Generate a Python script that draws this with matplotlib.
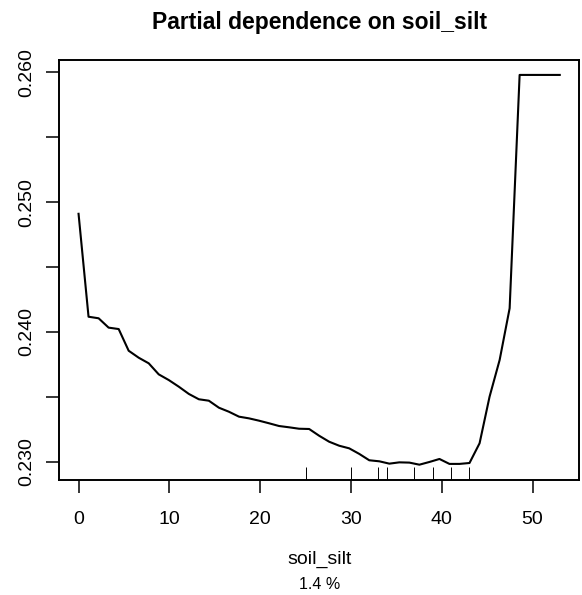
import matplotlib
matplotlib.use("Agg")
import matplotlib.pyplot as plt
import matplotlib.transforms as mtransforms

plt.rcParams['font.family'] = ['Liberation Sans', 'DejaVu Sans']

# partial dependence curve
soil_silt = [0.00, 1.10, 2.21, 3.31, 4.42, 5.52, 6.63, 7.73, 8.83, 9.94,
             11.04, 12.15, 13.25, 14.35, 15.46, 16.56, 17.67, 18.77, 19.88, 20.98,
             22.08, 23.19, 24.29, 25.40, 26.50, 27.60, 28.71, 29.81, 30.92, 32.02,
             33.13, 34.23, 35.33, 36.44, 37.54, 38.65, 39.75, 40.85, 41.96, 43.06,
             44.17, 45.27, 46.38, 47.48, 48.58, 49.69, 50.79, 51.90, 53.00]
pdep = [0.2491, 0.24117, 0.24105, 0.24033, 0.24022, 0.23855, 0.23801, 0.23758, 0.23673, 0.23629,
        0.23578, 0.23522, 0.23481, 0.23470, 0.23416, 0.23385, 0.23347, 0.23334, 0.23316, 0.23296,
        0.23275, 0.23265, 0.23254, 0.23252, 0.23200, 0.23154, 0.23123, 0.23103, 0.23060, 0.23011,
        0.23003, 0.22985, 0.22995, 0.22993, 0.22977, 0.22998, 0.23021, 0.22983, 0.22983, 0.22990,
        0.23142, 0.23501, 0.23784, 0.24182, 0.25980, 0.25980, 0.25980, 0.25980, 0.25980]

# deciles shown as rug
rug = [25, 30, 33, 34, 37, 39, 41, 43]

xticks = [0, 10, 20, 30, 40, 50]
yticks = [0.230, 0.240, 0.250, 0.260]
yminor = [0.235, 0.245, 0.255]

fig = plt.figure(figsize=(5.82, 5.95), dpi=100)
ax = fig.add_axes([59.3 / 582, 1 - 480 / 595, (579 - 59.3) / 582, (480 - 60) / 595])

ax.plot(soil_silt, pdep, color='black', lw=1.5)

trans = mtransforms.blended_transform_factory(ax.transData, ax.transAxes)
ax.vlines(rug, 0, 0.03, transform=trans, color='black', lw=0.7)

ax.set_xlim(-2.12, 55.12)
ax.set_ylim(0.22859, 0.26095)

ax.set_xticks(xticks)
ax.set_xticklabels([str(t) for t in xticks])
ax.set_yticks(yticks)
ax.set_yticklabels(['%.3f' % t for t in yticks], rotation=90, va='center')
ax.set_yticks(yminor, minor=True)

ax.tick_params(axis='both', which='both', direction='out', length=9.4, width=1.1,
               labelsize=14, color='black')
ax.tick_params(axis='x', pad=13)
ax.tick_params(axis='y', pad=8)

for s in ax.spines.values():
    s.set_linewidth(1.4)

cx = (59.3 + 579) / 2 / 582
fig.text(cx, 1 - 28.5 / 595, 'Partial dependence on soil_silt', ha='center', va='baseline',
         fontsize=16.5, fontweight='bold')
fig.text(cx, 1 - 564.3 / 595, 'soil_silt', ha='center', va='baseline', fontsize=14)
fig.text(cx, 1 - 589.3 / 595, '1.4 %', ha='center', va='baseline', fontsize=11.5)

fig.savefig('out.png', dpi=100)
